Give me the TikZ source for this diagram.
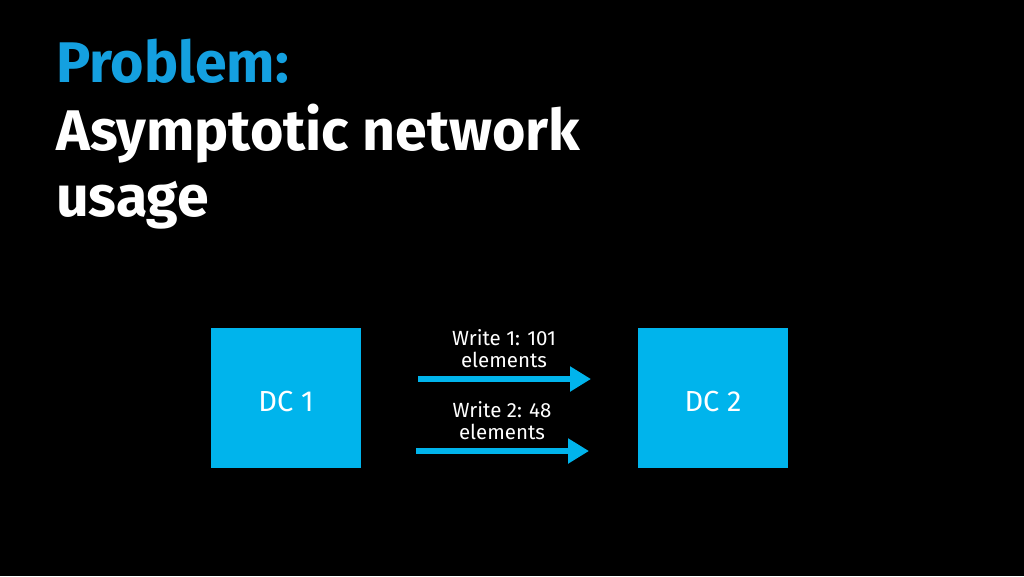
\documentclass[tikz,border=0pt]{standalone}
\usepackage{fontspec}
\setmainfont{Fira Sans}
\usetikzlibrary{arrows.meta}
\definecolor{boxblue}{HTML}{00B4EC}
\definecolor{titleblue}{HTML}{14A0E0}
\tikzset{
  dcbox/.style={fill=boxblue, draw=none, minimum width=150pt, minimum height=140pt, inner sep=0pt, text=white, font=\fontsize{29}{34}\selectfont},
  lbl/.style={text=white, align=center, font=\fontsize{20.5}{22}\selectfont, inner sep=0pt},
  flow/.style={draw=boxblue, line width=6pt, -{Triangle[length=21pt,width=24pt]}},
  ttl/.style={anchor=base west, inner sep=0pt, font=\bfseries\fontsize{57.3}{66}\selectfont}
}
\begin{document}
\begin{tikzpicture}[x=1pt,y=-1pt]
\fill[black] (0,0) rectangle (1024,576);
\useasboundingbox (0,0) rectangle (1024,576);
\node[ttl, text=titleblue] (t1) at (56,82) {Problem:};
\node[ttl, text=white] (t2) at (56,150) {Asymptotic network};
\node[ttl, text=white] (t3) at (56,216) {usage};
\node[dcbox] (dc1) at (286,398) {\raisebox{-4pt}[\height][\depth]{DC 1}};
\node[dcbox] (dc2) at (713,398) {\raisebox{-4pt}[\height][\depth]{DC 2}};
\coordinate (a1s) at (418,379);
\coordinate (a1e) at (591,379);
\coordinate (a2s) at (416,451);
\coordinate (a2e) at (589,451);
\draw[flow] (a1s) -- (a1e);
\draw[flow] (a2s) -- (a2e);
\node[lbl] (l1) at (504,349) {Write 1: 101\\elements};
\node[lbl] (l2) at (502,421) {Write 2: 48\\elements};
\end{tikzpicture}
\end{document}
